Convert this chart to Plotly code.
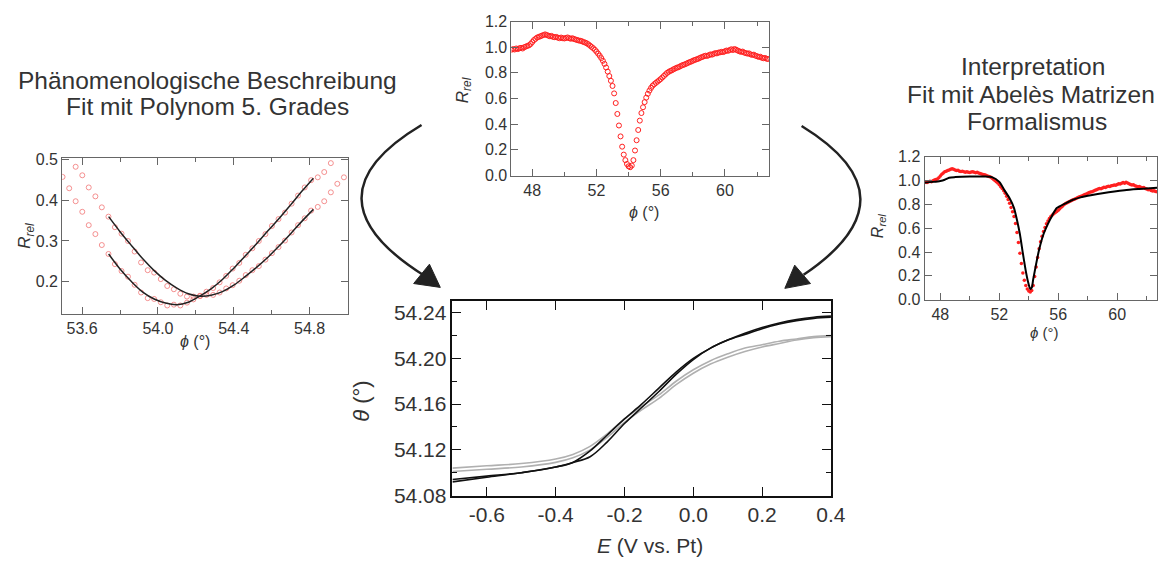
import plotly.graph_objects as go

# ---------------- data ----------------
# left panel: two reflectivity scans near the minimum (open circles) + 5th-order polynomial fits
poly_phi_a = [53.497, 53.532, 53.566, 53.601, 53.635, 53.670, 53.704, 53.739, 53.773, 53.808,
              53.842, 53.877, 53.911, 53.946, 53.980, 54.015, 54.049, 54.084, 54.118, 54.153,
              54.187, 54.222, 54.256, 54.291, 54.325, 54.360, 54.394, 54.429, 54.463, 54.498,
              54.532, 54.567, 54.601, 54.636, 54.670, 54.705, 54.739, 54.774, 54.808, 54.843,
              54.877, 54.912]
poly_R_a = [0.458, 0.430, 0.398, 0.372, 0.339, 0.317, 0.290, 0.268, 0.243, 0.226,
            0.212, 0.192, 0.173, 0.159, 0.157, 0.149, 0.141, 0.143, 0.141, 0.148,
            0.156, 0.164, 0.175, 0.184, 0.198, 0.214, 0.232, 0.246, 0.266, 0.282,
            0.300, 0.317, 0.337, 0.354, 0.370, 0.392, 0.412, 0.432, 0.450, 0.457,
            0.470, 0.492]
poly_phi_b = [53.566, 53.601, 53.635, 53.670, 53.704, 53.739, 53.773, 53.808, 53.842, 53.877,
              53.911, 53.946, 53.980, 54.015, 54.049, 54.084, 54.118, 54.153, 54.187, 54.222,
              54.256, 54.291, 54.325, 54.360, 54.394, 54.429, 54.463, 54.498, 54.532, 54.567,
              54.601, 54.636, 54.670, 54.705, 54.739, 54.774, 54.808, 54.843, 54.877, 54.912,
              54.946, 54.981]
poly_R_b = [0.483, 0.462, 0.432, 0.410, 0.383, 0.360, 0.334, 0.318, 0.300, 0.274,
            0.247, 0.228, 0.222, 0.206, 0.189, 0.181, 0.170, 0.163, 0.163, 0.165,
            0.167, 0.167, 0.173, 0.183, 0.191, 0.202, 0.216, 0.228, 0.238, 0.254,
            0.270, 0.285, 0.301, 0.321, 0.339, 0.356, 0.375, 0.384, 0.398, 0.420,
            0.441, 0.457]
fit_phi = [53.74, 53.80, 53.86, 53.92, 53.98, 54.04, 54.10, 54.16, 54.22, 54.28,
           54.34, 54.40, 54.46, 54.52, 54.58, 54.64, 54.70, 54.76, 54.82]
fit_R_a = [0.268, 0.231, 0.200, 0.174, 0.157, 0.147, 0.143, 0.149, 0.164, 0.182,
           0.205, 0.233, 0.263, 0.293, 0.325, 0.356, 0.389, 0.423, 0.455]
fit_R_b = [0.360, 0.323, 0.289, 0.256, 0.227, 0.203, 0.184, 0.170, 0.164, 0.166,
           0.175, 0.191, 0.212, 0.235, 0.260, 0.288, 0.318, 0.349, 0.378]

# top / right panel: full SPR reflectivity curve
spr_phi = [46.7, 46.8, 46.9, 47.0, 47.1, 47.2, 47.3, 47.4, 47.5, 47.6,
           47.7, 47.8, 47.9, 48.0, 48.1, 48.2, 48.3, 48.4, 48.5, 48.6,
           48.7, 48.8, 48.9, 49.0, 49.1, 49.2, 49.3, 49.4, 49.5, 49.6,
           49.7, 49.8, 49.9, 50.0, 50.1, 50.2, 50.3, 50.4, 50.5, 50.6,
           50.7, 50.8, 50.9, 51.0, 51.1, 51.2, 51.3, 51.4, 51.5, 51.6,
           51.7, 51.8, 51.9, 52.0, 52.1, 52.2, 52.3, 52.4, 52.5, 52.6,
           52.7, 52.8, 52.9, 53.0, 53.1, 53.2, 53.3, 53.4, 53.5, 53.6,
           53.7, 53.8, 53.9, 54.0, 54.1, 54.2, 54.3, 54.4, 54.5, 54.6,
           54.7, 54.8, 54.9, 55.0, 55.1, 55.2, 55.3, 55.4, 55.5, 55.6,
           55.7, 55.8, 55.9, 56.0, 56.1, 56.2, 56.3, 56.4, 56.5, 56.6,
           56.7, 56.8, 56.9, 57.0, 57.1, 57.2, 57.3, 57.4, 57.5, 57.6,
           57.7, 57.8, 57.9, 58.0, 58.1, 58.2, 58.3, 58.4, 58.5, 58.6,
           58.7, 58.8, 58.9, 59.0, 59.1, 59.2, 59.3, 59.4, 59.5, 59.6,
           59.7, 59.8, 59.9, 60.0, 60.1, 60.2, 60.3, 60.4, 60.5, 60.6,
           60.7, 60.8, 60.9, 61.0, 61.1, 61.2, 61.3, 61.4, 61.5, 61.6,
           61.7, 61.8, 61.9, 62.0, 62.1, 62.2, 62.3, 62.4, 62.5, 62.6,
           62.7]
spr_R = [0.980, 0.985, 0.982, 0.990, 0.985, 0.992, 0.995, 0.990, 1.000, 1.005,
         1.010, 1.015, 1.025, 1.040, 1.055, 1.065, 1.075, 1.080, 1.085, 1.090,
         1.095, 1.100, 1.095, 1.090, 1.085, 1.088, 1.080, 1.078, 1.080, 1.074,
         1.070, 1.075, 1.070, 1.068, 1.072, 1.076, 1.070, 1.066, 1.070, 1.064,
         1.060, 1.056, 1.052, 1.050, 1.046, 1.040, 1.036, 1.030, 1.022, 1.012,
         1.002, 0.992, 0.980, 0.966, 0.950, 0.934, 0.915, 0.894, 0.870, 0.842,
         0.810, 0.775, 0.738, 0.698, 0.640, 0.565, 0.480, 0.390, 0.305, 0.225,
         0.163, 0.120, 0.090, 0.072, 0.065, 0.078, 0.120, 0.195, 0.275, 0.355,
         0.428, 0.487, 0.532, 0.572, 0.607, 0.637, 0.662, 0.683, 0.700, 0.712,
         0.722, 0.732, 0.742, 0.752, 0.764, 0.776, 0.788, 0.800, 0.808, 0.815,
         0.820, 0.828, 0.834, 0.840, 0.844, 0.850, 0.857, 0.862, 0.866, 0.872,
         0.878, 0.884, 0.888, 0.894, 0.900, 0.904, 0.908, 0.914, 0.920, 0.924,
         0.930, 0.934, 0.932, 0.938, 0.944, 0.942, 0.948, 0.954, 0.952, 0.958,
         0.960, 0.964, 0.962, 0.968, 0.974, 0.972, 0.978, 0.984, 0.978, 0.986,
         0.980, 0.974, 0.968, 0.964, 0.966, 0.958, 0.954, 0.950, 0.952, 0.944,
         0.940, 0.942, 0.934, 0.930, 0.924, 0.926, 0.918, 0.914, 0.916, 0.910,
         0.908]

# right panel: Abelès matrix fit
abeles_phi = [46.9, 47.5, 48.0, 48.3, 48.6, 49.0, 50.0, 51.0, 51.5, 52.0,
              52.4, 52.7, 53.0, 53.2, 53.4, 53.6, 53.8, 53.95, 54.1, 54.2,
              54.3, 54.5, 54.7, 55.0, 55.3, 55.6, 55.9, 56.5, 57.0, 57.5,
              58.3, 59.0, 60.5, 61.5, 62.7]
abeles_R = [0.983, 0.990, 0.998, 1.008, 1.025, 1.030, 1.035, 1.035, 1.030, 0.990,
            0.910, 0.853, 0.770, 0.670, 0.550, 0.390, 0.240, 0.150, 0.090, 0.100,
            0.170, 0.300, 0.420, 0.550, 0.637, 0.710, 0.770, 0.810, 0.840, 0.860,
            0.880, 0.895, 0.920, 0.930, 0.940]

# main panel: resonance angle vs potential (two cycles each, black and grey)
E_V = [-0.7, -0.6, -0.5, -0.4, -0.35, -0.3, -0.25, -0.2, -0.15, -0.1,
       -0.05, 0.0, 0.05, 0.1, 0.15, 0.2, 0.25, 0.3, 0.35, 0.4]
theta_black_1 = [54.094, 54.097, 54.100, 54.105, 54.109, 54.119, 54.133, 54.147, 54.160, 54.174,
                 54.188, 54.200, 54.209, 54.216, 54.221, 54.226, 54.230, 54.233, 54.235, 54.236]
theta_black_2 = [54.092, 54.096, 54.100, 54.105, 54.109, 54.114, 54.127, 54.143, 54.157, 54.171,
                 54.186, 54.199, 54.209, 54.216, 54.222, 54.227, 54.231, 54.234, 54.236, 54.237]
theta_gray_1 = [54.104, 54.106, 54.108, 54.112, 54.116, 54.123, 54.134, 54.147, 54.158, 54.168,
                54.180, 54.190, 54.198, 54.204, 54.209, 54.212, 54.215, 54.217, 54.219, 54.220]
theta_gray_2 = [54.101, 54.103, 54.105, 54.109, 54.113, 54.120, 54.131, 54.144, 54.155, 54.165,
                54.177, 54.187, 54.195, 54.201, 54.206, 54.210, 54.213, 54.216, 54.218, 54.219]
E_tickvals = [-0.6, -0.4, -0.2, 0.0, 0.2, 0.4]
E_ticktext = ["-0.6", "-0.4", "-0.2", "0.0", "0.2", "0.4"]

# ---------------- layout helpers ----------------
W, H = 1174, 572
FONT = "Liberation Sans, Arial, Helvetica, sans-serif"
TXT = "#333333"


def px(p):
    return p / W


def py(p):
    return 1 - p / H


def axis(color, lw, tl, fs, **kw):
    d = dict(showline=True, linecolor=color, linewidth=lw, mirror="ticks",
             ticks="inside", ticklen=tl, tickwidth=1, tickcolor=color,
             showgrid=False, zeroline=False, fixedrange=True,
             tickfont=dict(family=FONT, size=fs, color=TXT))
    d.update(kw)
    return d


fig = go.Figure()

# left panel
red_light = "rgba(240,110,110,0.75)"
fig.add_trace(go.Scatter(x=poly_phi_a, y=poly_R_a, mode="markers", xaxis="x", yaxis="y",
                         marker=dict(symbol="circle-open", size=5, color=red_light, line=dict(width=1))))
fig.add_trace(go.Scatter(x=poly_phi_b, y=poly_R_b, mode="markers", xaxis="x", yaxis="y",
                         marker=dict(symbol="circle-open", size=5, color=red_light, line=dict(width=1))))
fig.add_trace(go.Scatter(x=fit_phi, y=fit_R_a, mode="lines", xaxis="x", yaxis="y",
                         line=dict(color="#222", width=1.5, shape="spline")))
fig.add_trace(go.Scatter(x=fit_phi, y=fit_R_b, mode="lines", xaxis="x", yaxis="y",
                         line=dict(color="#222", width=1.5, shape="spline")))

# top panel
fig.add_trace(go.Scatter(x=spr_phi, y=spr_R, mode="markers", xaxis="x2", yaxis="y2",
                         marker=dict(symbol="circle-open", size=5, color="#ff2020", line=dict(width=1))))

# right panel
fig.add_trace(go.Scatter(x=spr_phi, y=spr_R, mode="markers", xaxis="x3", yaxis="y3",
                         marker=dict(symbol="circle", size=3.5, color="#ff2020")))
fig.add_trace(go.Scatter(x=abeles_phi, y=abeles_R, mode="lines", xaxis="x3", yaxis="y3",
                         line=dict(color="#000", width=2, shape="spline", smoothing=0.6)))

# main panel
for ys in (theta_gray_1, theta_gray_2):
    fig.add_trace(go.Scatter(x=E_V, y=ys, mode="lines", xaxis="x4", yaxis="y4",
                             line=dict(color="#b0b0b0", width=1.6, shape="spline", smoothing=1.0)))
for ys in (theta_black_1, theta_black_2):
    fig.add_trace(go.Scatter(x=E_V, y=ys, mode="lines", xaxis="x4", yaxis="y4",
                             line=dict(color="#111", width=1.6, shape="spline", smoothing=1.0)))

GR = "#666666"
layout = dict(
    width=W, height=H, margin=dict(l=0, r=0, t=0, b=0, pad=0), autosize=False,
    paper_bgcolor="white", plot_bgcolor="white", showlegend=False,
    font=dict(family=FONT, color=TXT),
    xaxis=axis(GR, 1, 7, 16, domain=[px(63), px(353)], anchor="y", range=[53.495, 55.005],
               tick0=53.6, dtick=0.4, tickformat=".1f",
               minor=dict(ticks="inside", ticklen=4, tickcolor=GR, tick0=53.6, dtick=0.2)),
    yaxis=axis(GR, 1, 7, 16, domain=[py(316.5), py(155)], anchor="x", range=[0.12, 0.505],
               tick0=0, dtick=0.1, tickformat=".1f"),
    xaxis2=axis(GR, 1, 7, 16, domain=[px(518), px(779)], anchor="y2", range=[46.7, 62.75],
                tick0=48, dtick=4, tickformat="d",
                minor=dict(ticks="inside", ticklen=4, tickcolor=GR, tick0=48, dtick=2)),
    yaxis2=axis(GR, 1, 7, 16, domain=[py(173.3), py(14)], anchor="x2", range=[0, 1.2],
                tick0=0, dtick=0.2, tickformat=".1f"),
    xaxis3=axis(GR, 1, 7, 16, domain=[px(936.5), px(1172)], anchor="y3", range=[46.93, 62.7],
                tick0=48, dtick=4, tickformat="d",
                minor=dict(ticks="inside", ticklen=4, tickcolor=GR, tick0=48, dtick=2)),
    yaxis3=axis(GR, 1, 7, 16, domain=[py(301.7), py(154)], anchor="x3", range=[0, 1.2],
                tick0=0, dtick=0.2, tickformat=".1f"),
    xaxis4=axis("#111", 1.5, 9, 21, domain=[px(458.3), px(841.7)], anchor="y4", range=[-0.7, 0.4],
                tickmode="array", tickvals=E_tickvals, ticktext=E_ticktext),
    yaxis4=axis("#111", 1.5, 9, 21, domain=[py(504.3), py(303.3)], anchor="x4", range=[54.08, 54.25],
                tick0=54.08, dtick=0.04, tickformat=".2f",
                minor=dict(ticks="inside", ticklen=5, tickcolor="#111", tick0=54.08, dtick=0.02)),
)
fig.update_layout(**layout)


def note(text, x, y, size, angle=0):
    fig.add_annotation(text=text, x=px(x), y=py(y), xref="paper", yref="paper",
                       xanchor="center", yanchor="middle", showarrow=False, textangle=angle,
                       font=dict(family=FONT, size=size, color=TXT))


RREL = "<i>R</i><sub><i>rel</i></sub>"
PHI = "<i>ϕ</i> (°)"
note("Phänomenologische Beschreibung", 210, 75, 24.5)
note("Fit mit Polynom 5. Grades", 210, 102, 24.5)
note("Interpretation", 1046, 60, 24.5)
note("Fit mit Abelès Matrizen", 1044, 89, 24.5)
note("Formalismus", 1050, 117, 24.5)
note(RREL, 27, 236, 17, -90)
note(PHI, 198, 345, 16)
note(RREL, 470, 85, 17, -90)
note(PHI, 652, 212, 16)
note(RREL, 890, 225, 16, -90)
note(PHI, 1058, 336, 15)
note("<i>θ</i> (°)", 366, 406, 22, -90)
note("<i>E</i> (V vs. Pt)", 658, 556, 21)

# curved arrows
ARC = "#222222"


def P(x, y):
    return f"{px(x):.5f},{py(y):.5f}"


fig.add_shape(type="path", xref="paper", yref="paper",
              path=f"M {P(427,121)} Q {P(304,196)} {P(430,277)}",
              line=dict(color=ARC, width=2.5))
fig.add_shape(type="path", xref="paper", yref="paper",
              path=f"M {P(419,285)} L {P(435,265)} L {P(446,289)} Z",
              line=dict(color=ARC, width=1), fillcolor=ARC)
fig.add_shape(type="path", xref="paper", yref="paper",
              path=f"M {P(812,122)} Q {P(930,196)} {P(814,276)}",
              line=dict(color=ARC, width=2.5))
fig.add_shape(type="path", xref="paper", yref="paper",
              path=f"M {P(805,266)} L {P(821,285)} L {P(795,290)} Z",
              line=dict(color=ARC, width=1), fillcolor=ARC)

fig.write_html("out.html")
